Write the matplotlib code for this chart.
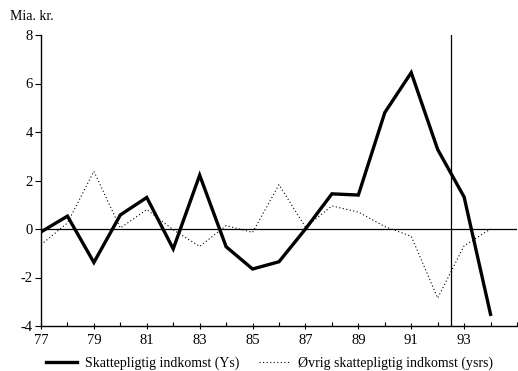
import matplotlib
matplotlib.use("Agg")
import matplotlib.pyplot as plt
from matplotlib.ticker import MultipleLocator, FixedLocator, FuncFormatter

plt.rcParams['font.family'] = ['Liberation Serif', 'DejaVu Serif']
plt.rcParams['axes.unicode_minus'] = False

years = list(range(1977, 1995))
ys = [-0.12, 0.53, -1.38, 0.58, 1.30, -0.82, 2.22, -0.73, -1.65, -1.35,
      0.0, 1.45, 1.40, 4.80, 6.45, 3.28, 1.32, -3.52]
ysrs = [-0.65, 0.25, 2.38, 0.04, 0.80, -0.03, -0.72, 0.14, -0.14, 1.83,
        0.08, 0.95, 0.70, 0.10, -0.30, -2.85, -0.69, 0.0]
label_years = list(range(1977, 1995, 2))
split_year = 1992.5

fig = plt.figure(figsize=(5.18, 3.71), dpi=100)
ax = fig.add_axes([41/518, 1 - 326/371, (517 - 41)/518, (326 - 35)/371])

ax.plot(years, ys, color='black', lw=2.4, solid_joinstyle='miter',
        label='Skattepligtig indkomst (Ys)')
ax.plot(years, ysrs, color='black', lw=0.8, linestyle=(0, (1, 2.2)),
        label='Øvrig skattepligtig indkomst (ysrs)')

ax.axhline(0, color='black', lw=0.9)
ax.axvline(split_year, color='black', lw=0.9)

ax.set_xlim(1977, 1995)
ax.set_ylim(-4, 8)
ax.yaxis.set_major_locator(MultipleLocator(2))
ax.yaxis.set_major_formatter(FuncFormatter(lambda v, p: f"{int(v)}"))
ax.xaxis.set_major_locator(FixedLocator(label_years))
ax.xaxis.set_minor_locator(MultipleLocator(1))
ax.xaxis.set_major_formatter(FuncFormatter(lambda v, p: f"{int(v) % 100:02d}"))

for s in ['top', 'right']:
    ax.spines[s].set_visible(False)
ax.spines['left'].set_linewidth(1.0)
ax.spines['bottom'].set_linewidth(1.0)

ax.tick_params(axis='y', direction='out', length=4, width=0.8, labelsize=10.5, pad=2)
ax.tick_params(axis='x', which='major', direction='inout', length=5, width=0.8,
               labelsize=10.5, pad=3)
ax.tick_params(axis='x', which='minor', direction='in', length=3, width=0.8)

fig.text(10/518, 1 - 17/371, 'Mia. kr.', fontsize=10, ha='left', va='center')

leg = fig.legend(loc='center', bbox_to_anchor=(0.52, 1 - 363/371), ncol=2,
                 frameon=False, fontsize=10, handlelength=2.2,
                 columnspacing=1.4, handletextpad=0.6)

fig.savefig('out.png', dpi=100)
